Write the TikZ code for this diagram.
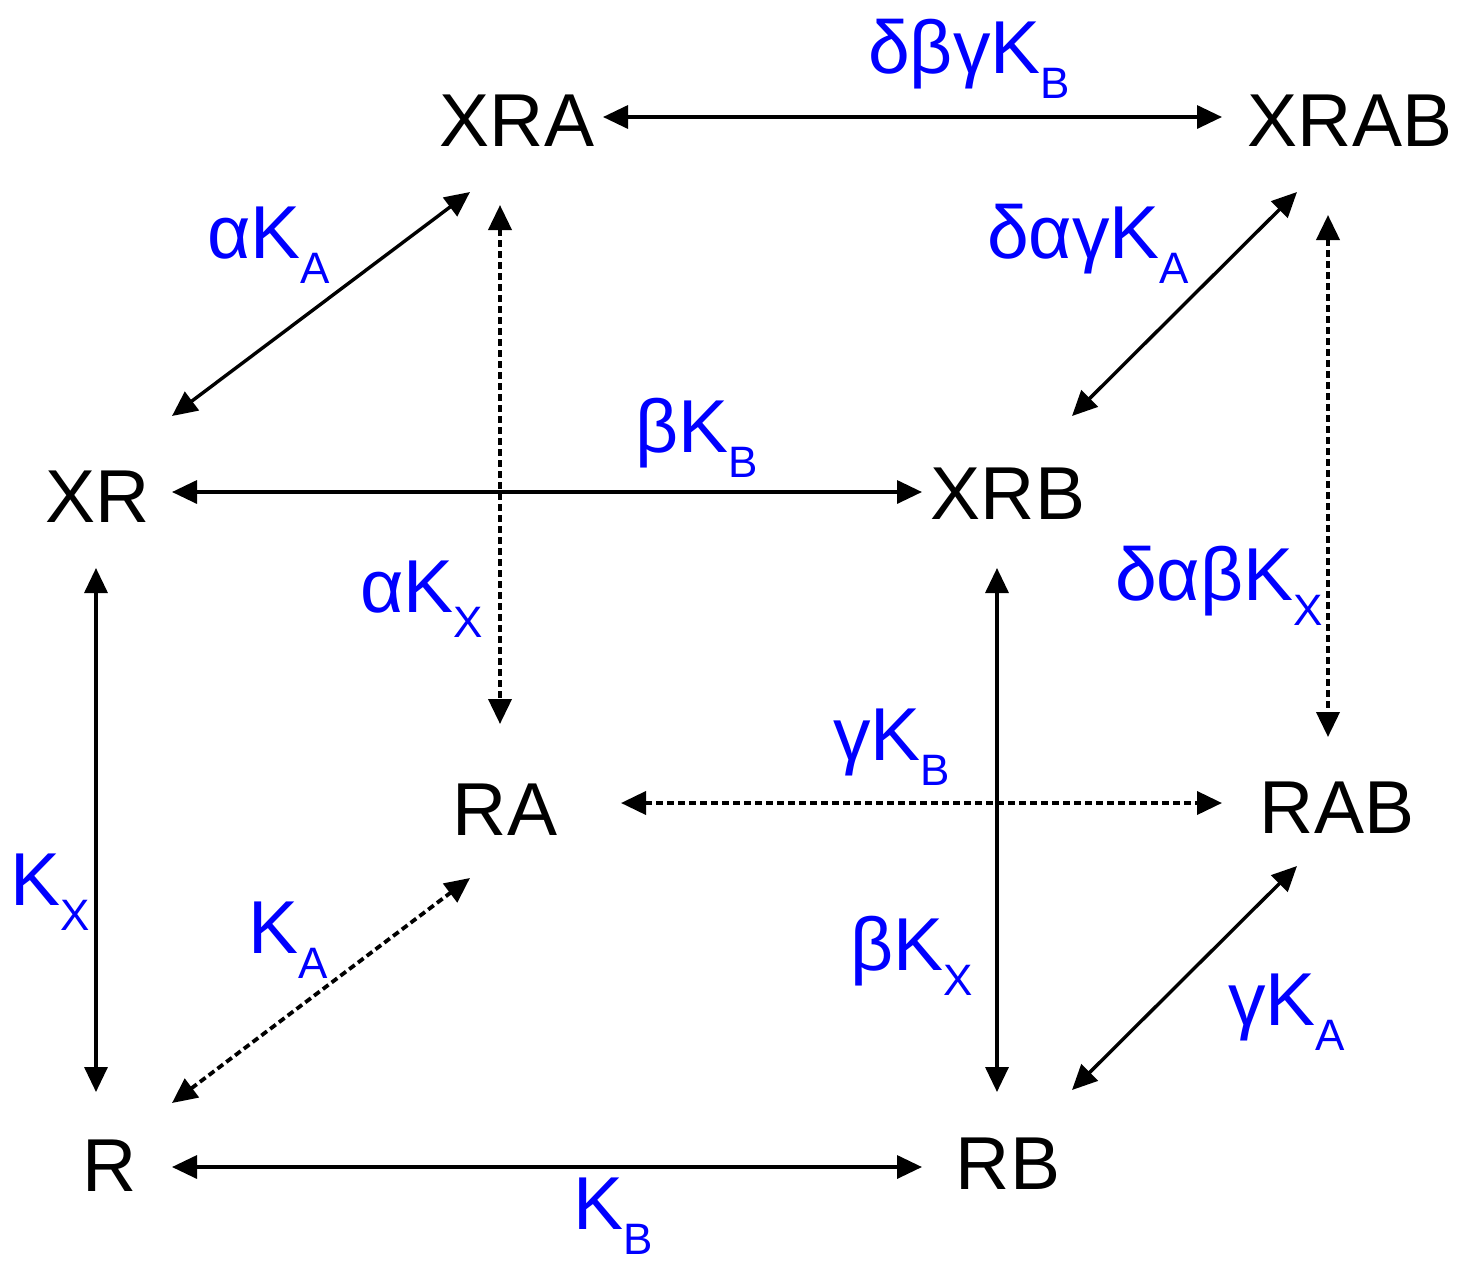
\documentclass[tikz,border=0pt]{standalone}
\usepackage{fontspec}
\setmainfont{Liberation Sans}
\usetikzlibrary{arrows.meta,calc}
\definecolor{rateblue}{RGB}{0,0,255}
\newcommand\lsub[1]{\raisebox{-25pt}{\fontsize{44}{44}\selectfont #1}}
\tikzset{
  species/.style={inner sep=0pt, font=\fontsize{75}{80}\selectfont},
  rate/.style={inner sep=0pt, anchor=base west, text=rateblue, font=\fontsize{75}{80}\selectfont},
  eq/.style={line width=3.4pt, {Triangle[length=25pt,width=23pt]}-{Triangle[length=25pt,width=23pt]}},
  eqdot/.style={eq, line width=3.8pt, dash pattern=on 7pt off 4pt},
}
\begin{document}
\begin{tikzpicture}[x=1pt,y=-1pt]
\useasboundingbox[fill=white] (0,0) rectangle (1470,1262);

% species of the binding cube
\node[species] (XRA)  at (517,121)  {XRA};
\node[species] (XRAB) at (1350,121) {XRAB};
\node[species] (XR)   at (98,497)   {XR};
\node[species] (XRB)  at (1008,494) {XRB};
\node[species] (RA)   at (505,810)  {RA};
\node[species] (RAB)  at (1337,808) {RAB};
\node[species] (R)    at (110,1166) {R};
\node[species] (RB)   at (1008,1164){RB};

% equilibria
\draw[eq]    ($(XRA)+(86,-4)$)   -- ($(XRAB)+(-128,-4)$);
\draw[eq]    ($(XR)+(74,-81)$)   -- ($(XRA)+(-47,71)$);
\draw[eqdot] ($(XRA)+(-17,84)$)  -- ($(RA)+(-5,-86)$);
\draw[eq]    ($(XRB)+(64,-78)$)  -- ($(XRAB)+(-53,71)$);
\draw[eqdot] ($(XRAB)+(-22,94)$) -- ($(RAB)+(-9,-71)$);
\draw[eq]    ($(XR)+(74,-5)$)    -- ($(XRB)+(-86,-2)$);
\draw[eq]    ($(XR)+(-2,71)$)    -- ($(R)+(-14,-74)$);
\draw[eq]    ($(XRB)+(-11,74)$)  -- ($(RB)+(-11,-72)$);
\draw[eqdot] ($(RA)+(116,-7)$)   -- ($(RAB)+(-115,-5)$);
\draw[eqdot] ($(R)+(62,-63)$)    -- ($(RA)+(-35,68)$);
\draw[eq]    ($(RB)+(64,-74)$)   -- ($(RAB)+(-40,58)$);
\draw[eq]    ($(R)+(62,1)$)      -- ($(RB)+(-86,3)$);

% dissociation constants
\node[rate] (k1)  at (868,73)   {δβγK\lsub{B}};
\node[rate] (k2)  at (207,258)  {αK\lsub{A}};
\node[rate] (k3)  at (987,258)  {δαγK\lsub{A}};
\node[rate] (k4)  at (635,452)  {βK\lsub{B}};
\node[rate] (k5)  at (360,612)  {αK\lsub{X}};
\node[rate] (k6)  at (1115,600) {δαβK\lsub{X}};
\node[rate] (k7)  at (833,760)  {γK\lsub{B}};
\node[rate] (k8)  at (10,905)   {K\lsub{X}};
\node[rate] (k9)  at (248,953)  {K\lsub{A}};
\node[rate] (k10) at (850,970)  {βK\lsub{X}};
\node[rate] (k11) at (1228,1025){γK\lsub{A}};
\node[rate] (k12) at (573,1229) {K\lsub{B}};
\end{tikzpicture}
\end{document}
